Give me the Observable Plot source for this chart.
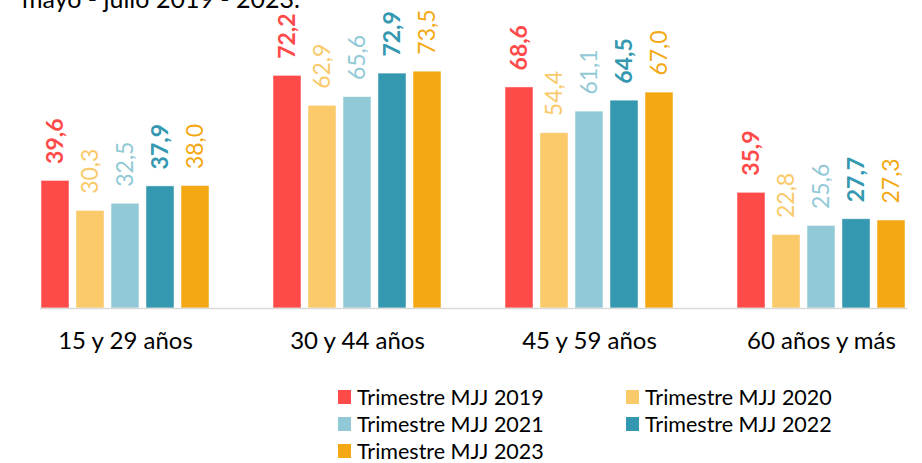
<!DOCTYPE html>
<html>
<head>
<meta charset="utf-8">
<script src="https://cdn.jsdelivr.net/npm/d3@7"></script>
<script src="https://cdn.jsdelivr.net/npm/@observablehq/plot@0.6"></script>
<style>
  body { margin:0; width:922px; height:463px; overflow:hidden; position:relative; background:#fff; font-family: Lato, "Open Sans", sans-serif; color:#000; }
  #title { position:absolute; left:22px; top:-17px; font-size:25px; line-height:30px; white-space:nowrap; }
  #chart { position:absolute; left:0; top:0; }
  #legend { position:absolute; left:338px; top:383px; display:grid; grid-template-columns: 288px 280px; font-size:21.5px; }
  .item { display:flex; align-items:center; height:27px; white-space:nowrap; }
  .sw { width:13px; height:14px; margin-right:6px; flex:none; }
</style>
</head>
<body>
<div id="title">mayo - julio 2019 - 2023.</div>
<div id="chart"></div>
<div id="legend"></div>
<script>
const categories = ["15 y 29 años", "30 y 44 años", "45 y 59 años", "60 años y más"];
const series = ["Trimestre MJJ 2019", "Trimestre MJJ 2020", "Trimestre MJJ 2021", "Trimestre MJJ 2022", "Trimestre MJJ 2023"];
const v2019 = [39.6, 72.2, 68.6, 35.9];
const v2020 = [30.3, 62.9, 54.4, 22.8];
const v2021 = [32.5, 65.6, 61.1, 25.6];
const v2022 = [37.9, 72.9, 64.5, 27.7];
const v2023 = [38.0, 73.5, 67.0, 27.3];
const colors = ["#FF4A4A", "#F9C96A", "#92C9D6", "#3498B0", "#F4A914"];
const boldSeries = ["Trimestre MJJ 2019", "Trimestre MJJ 2022"];

const valuesBySeries = [v2019, v2020, v2021, v2022, v2023];
const data = [];
series.forEach((s, si) => {
  categories.forEach((c, ci) => {
    data.push({cat: c, series: s, value: valuesBySeries[si][ci]});
  });
});
const fmt = d => d.value.toFixed(1).replace(".", ",");

const chart = Plot.plot({
  width: 922,
  height: 370,
  marginLeft: 10,
  marginRight: 0,
  marginTop: 18,
  marginBottom: 62,
  style: {fontFamily: "Lato, 'Open Sans', sans-serif", fontSize: "24px", color: "#000", background: "transparent"},
  fx: {domain: categories, paddingInner: 0.267, paddingOuter: 0.099, align: 0.652, label: null, tickSize: 0, tickPadding: 23},
  x: {domain: series, paddingInner: 0.21, paddingOuter: 0, axis: null},
  y: {domain: [0, 90], axis: null},
  color: {domain: series, range: colors},
  marks: [
    Plot.barY(data, {fx: "cat", x: "series", y: "value", fill: "series", stroke: "#fff", strokeOpacity: 0.6, strokeWidth: 0.8}),
    Plot.text(data.filter(d => boldSeries.includes(d.series)), {fx: "cat", x: "series", y: "value", text: fmt, rotate: -90, textAnchor: "start", lineAnchor: "middle", dy: -17, fill: "series", fontWeight: "bold", fontSize: 23}),
    Plot.text(data.filter(d => !boldSeries.includes(d.series)), {fx: "cat", x: "series", y: "value", text: fmt, rotate: -90, textAnchor: "start", lineAnchor: "middle", dy: -17, fill: "series", fontWeight: "normal", fontSize: 23}),
    Plot.frame({anchor: "bottom", facet: "super", stroke: "#d9d9d9", strokeWidth: 1.5})
  ]
});
document.getElementById("chart").appendChild(chart);

const legend = document.getElementById("legend");
series.forEach((s, i) => {
  const item = document.createElement("div");
  item.className = "item";
  const sw = document.createElement("span");
  sw.className = "sw";
  sw.style.background = colors[i];
  const label = document.createElement("span");
  label.textContent = s;
  item.appendChild(sw);
  item.appendChild(label);
  legend.appendChild(item);
});
</script>
</body>
</html>
